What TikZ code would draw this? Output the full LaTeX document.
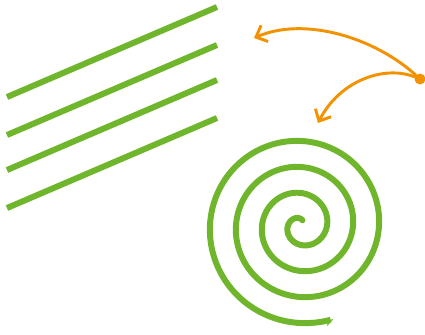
\documentclass[tikz,border=0pt]{standalone}
\usepackage{tikz}
\definecolor{grassgreen}{RGB}{112,182,44}
\definecolor{signalorange}{RGB}{243,146,0}
\usetikzlibrary{
  arrows.meta,
  positioning
}

\begin{document}
\begin{tikzpicture}[
    x=0.03cm, y=-0.03cm,
    stripe/.style={
      line width=5.1pt, draw=grassgreen, line cap=butt
    },
    coil/.style={
      line width=5.1pt, draw=grassgreen, line cap=round,
      -{Stealth[harpoon, swap, length=7pt, width=9pt, line width=0pt]}
    },
    pointer/.style={
      line width=2.5pt, draw=signalorange, line cap=round,
      -{Straight Barb[length=8pt, width=15pt, line width=2.5pt]}
    },
    srcdot/.style={
      circle, fill=signalorange, minimum size=0.33cm, inner sep=0pt
    }
  ]

  \useasboundingbox (0,0) rectangle (425,334);

  %% Parallel stripes
  \foreach \y in {97,135,170,208}
    \draw[stripe] (7,\y) -- (217,\y-90);

  %% Spiral
  \draw[coil] plot[domain=1.3:23.9, samples=360, smooth]
    ({301+4.14*\x*cos(\x r)}, {225.5-4.14*\x*sin(\x r)});

  %% Source dot and its arrows
  \node[srcdot] (src) at (420,79) {};
  \coordinate (far) at (254,38);
  \coordinate (near) at (318,123);

  \draw[pointer] (src) .. controls (375,38) and (305,16) .. (far);
  \draw[pointer] (src) .. controls (385,65) and (340,80) .. (near);

\end{tikzpicture}
\end{document}
